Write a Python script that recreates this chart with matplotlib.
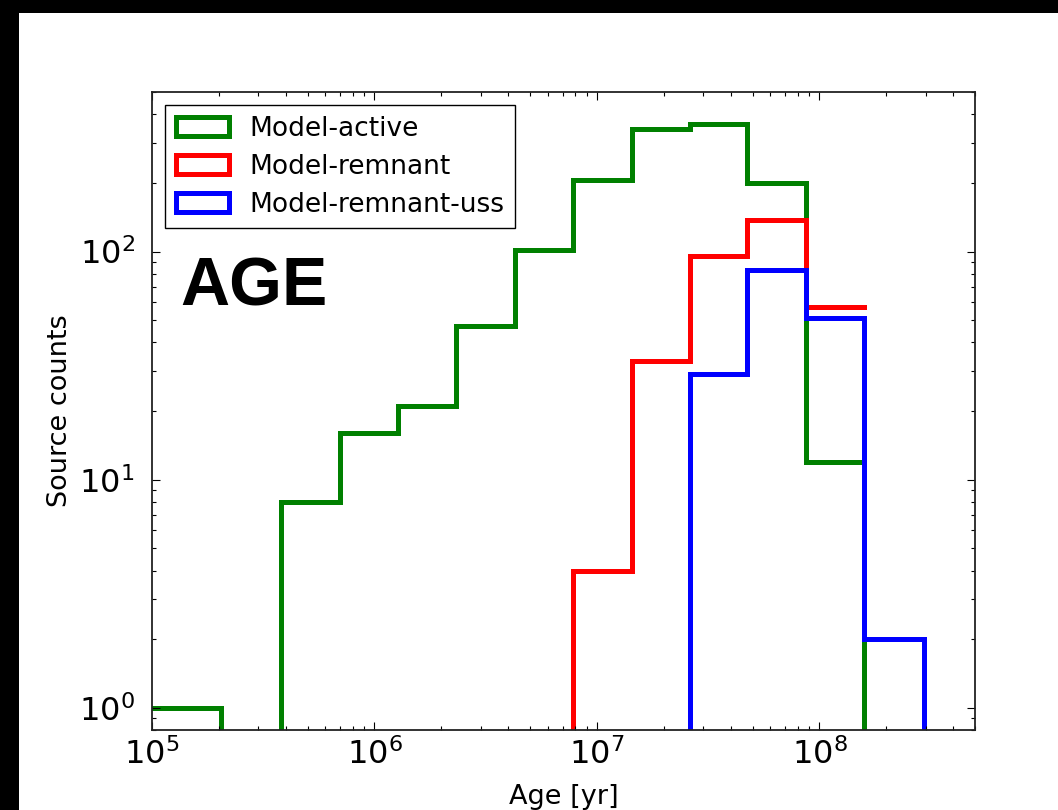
"""
Age distribution of modelled sources: active, remnant and
ultra-steep-spectrum remnant populations, as step histograms.
"""

import numpy as np
import matplotlib
matplotlib.use('Agg')
import matplotlib.pyplot as plt
from matplotlib.patches import Rectangle, Patch

# bin edges in years (log-spaced)
age_edges = [6.1e4, 2.04e5, 3.79e5, 6.98e5, 1.28e6, 2.32e6, 4.27e6, 7.8e6,
             1.43e7, 2.63e7, 4.74e7, 8.7e7, 1.59e8, 2.96e8]

counts_active = [1, 0, 8, 16, 21, 47, 102, 205, 343, 361, 200, 12, 0]
# remnant histogram stops at the 1.59e8 edge
counts_remnant = [0, 0, 0, 0, 0, 0, 0, 4, 33, 96, 137, 57]
counts_remnant_uss = [0, 0, 0, 0, 0, 0, 0, 0, 0, 29, 83, 51, 2]

labels = ['Model-active', 'Model-remnant', 'Model-remnant-uss']
colors = ['g', 'r', 'b']
LW = 3.6


def plot():
    f = plt.figure(figsize=(10.58, 8.10), dpi=100, facecolor='white')
    # dark border strips on the left and top of the canvas
    f.add_artist(Rectangle((0, 0), 19/1058., 1, transform=f.transFigure,
                           facecolor='black', edgecolor='none'))
    f.add_artist(Rectangle((0, 1 - 13/810.), 1, 13/810., transform=f.transFigure,
                           facecolor='black', edgecolor='none'))

    ax = f.add_axes([152/1058., 80/810., 823/1058., 638/810.])
    edges = np.array(age_edges)

    ax.stairs(counts_active, edges, baseline=0, fill=False,
              color=colors[0], lw=LW)
    ax.stairs(counts_remnant, edges[:len(counts_remnant) + 1], baseline=None,
              fill=False, color=colors[1], lw=LW, capstyle='projecting')
    ax.stairs(counts_remnant_uss, edges, baseline=0, fill=False,
              color=colors[2], lw=LW)

    ax.set_xscale('log')
    ax.set_yscale('log')
    ax.set_xlim(1e5, 5e8)
    ax.set_ylim(0.8, 500)

    ax.tick_params(which='both', direction='in', top=True, right=True,
                   width=0.8, color='black')
    ax.tick_params(which='major', length=5.5, labelsize=23)
    ax.tick_params(axis='x', which='major', pad=6)
    ax.tick_params(axis='y', which='major', pad=12.5)
    ax.tick_params(which='minor', length=3)
    for s in ax.spines.values():
        s.set_linewidth(1.3)
        s.set_color('#222222')

    ax.set_xlabel('Age [yr]', fontsize=19.5, labelpad=9)
    ax.set_ylabel('Source counts', fontsize=19.5, labelpad=4)

    ax.text(0.034, 0.666, 'AGE', transform=ax.transAxes, fontsize=49,
            fontweight='bold', family='Liberation Sans', va='baseline')

    handles = [Patch(facecolor='none', edgecolor=c, lw=LW, label=l)
               for c, l in zip(colors, labels)]
    leg = ax.legend(handles=handles, loc='upper left', fontsize=19,
                    fancybox=False, framealpha=1, borderaxespad=0.5,
                    labelspacing=0.45)
    leg.get_frame().set_edgecolor('black')
    leg.get_frame().set_linewidth(1.0)

    f.savefig('out.png', dpi=100)


def main():
    plot()


if __name__ == '__main__':
    main()
